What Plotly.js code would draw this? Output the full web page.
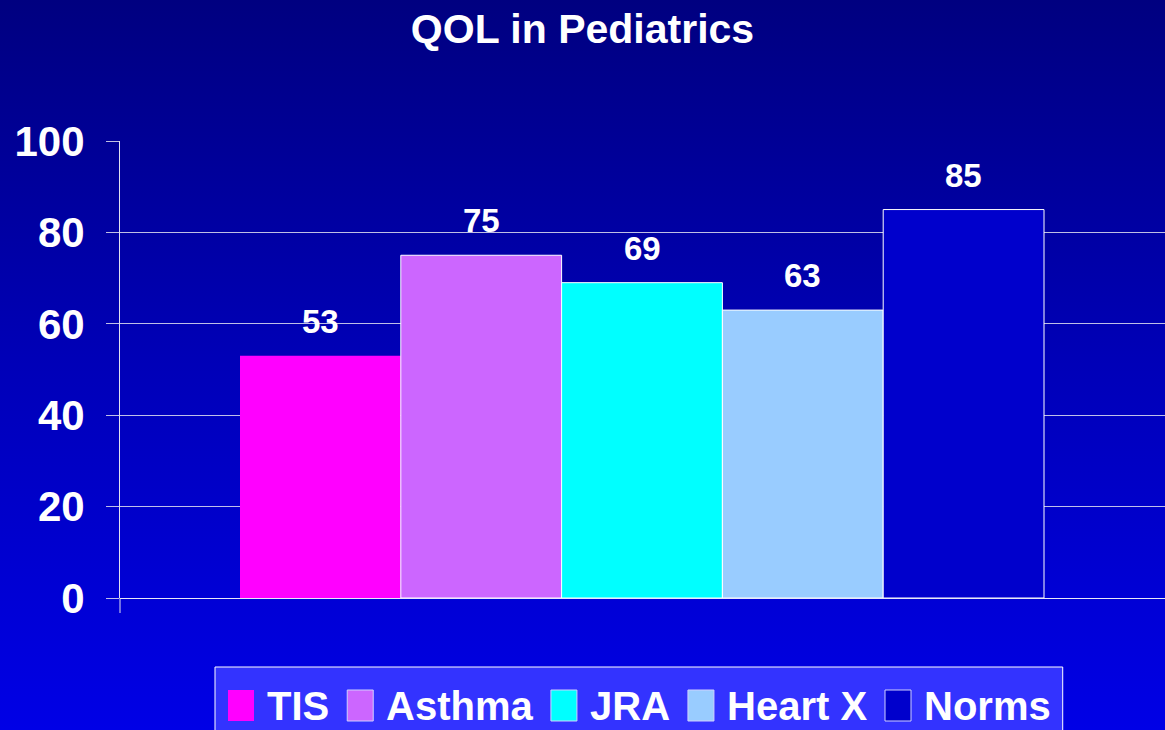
<!DOCTYPE html>
<html>
<head>
<meta charset="utf-8">
<script src="https://cdn.plot.ly/plotly-3.0.1.min.js"></script>
<style>
  html, body { margin: 0; padding: 0; width: 1165px; height: 730px; overflow: hidden; }
  body { background: linear-gradient(to bottom, #000080 0%, #0000B8 50%, #0000E6 100%); }
  #chart { width: 1165px; height: 730px; }
</style>
</head>
<body>
<div id="chart"></div>
<script>
// ---- data ----
const chartTitle = 'QOL in Pediatrics';
const categories = ['TIS', 'Asthma', 'JRA', 'Heart X', 'Norms'];
const values = [53, 75, 69, 63, 85];
const colors = ['#FF00FF', '#CC66FF', '#00FFFF', '#99CCFF', '#0000CC'];
const yTicks = [0, 20, 40, 60, 80, 100];

// ---- layout geometry (pixels) ----
const W = 1165, H = 730;
const M = { l: 120, r: 0, t: 141, b: 132 };
const plotW = W - M.l - M.r, plotH = H - M.t - M.b;
const px2x = p => (p - M.l) / plotW;
const py2y = p => (H - M.b - p) / plotH;
const FONT = 'Liberation Sans, Arial, sans-serif';
const outlineW = categories.map((c, i) => i === 0 ? 0 : 1);

const trace = {
  type: 'bar',
  x: categories,
  y: values,
  marker: { color: colors, line: { color: '#FFFFFF', width: outlineW } },
  showlegend: false,
  hoverinfo: 'x+y'
};

const annotations = categories.map((c, i) => ({
  x: c, y: values[i], xref: 'x', yref: 'y',
  text: String(values[i]), showarrow: false,
  xanchor: 'center', yanchor: 'bottom', yshift: 14,
  font: { family: FONT, size: 33, color: '#FFFFFF', weight: 700 }
}));

// custom legend (big swatches like the reference)
const ctx = document.createElement('canvas').getContext('2d');
ctx.font = 'bold 40px "Liberation Sans"';
const shapes = [];
const legendTop = 667, swTop = 690, swBot = 721;
let cx = 228;
const legendItems = [];
categories.forEach((c, i) => {
  const tw = ctx.measureText(c).width;
  legendItems.push({ c, i, sx: cx, tx: cx + 37 });
  cx = cx + 37 + tw + 20;
});
const legendRight = cx - 20 + 14;
shapes.push({
  type: 'rect', xref: 'paper', yref: 'paper',
  x0: px2x(215), x1: px2x(legendRight), y0: py2y(legendTop), y1: py2y(H + 20),
  fillcolor: '#3333FF', line: { color: '#FFFFFF', width: 1 }, layer: 'above'
});
legendItems.forEach(it => {
  shapes.push({
    type: 'rect', xref: 'paper', yref: 'paper',
    x0: px2x(it.sx), x1: px2x(it.sx + 26), y0: py2y(swBot), y1: py2y(swTop),
    fillcolor: colors[it.i],
    line: { color: '#D0D0FF', width: outlineW[it.i] }, layer: 'above'
  });
  annotations.push({
    x: px2x(it.tx), y: py2y((swTop + swBot) / 2), xref: 'paper', yref: 'paper',
    text: it.c, showarrow: false, xanchor: 'left', yanchor: 'middle',
    font: { family: FONT, size: 40, color: '#FFFFFF', weight: 700 }
  });
});
// small category-axis tick below the zero line at the left edge
shapes.push({
  type: 'line', xref: 'paper', yref: 'paper',
  x0: 0, x1: 0, y0: 0, y1: py2y(613),
  line: { color: '#E0E0F0', width: 1 }
});

// x range so bars span 240..1044 px
const unitPx = (1044 - 240) / categories.length;
const x0 = -0.5 - (240 - M.l) / unitPx;
const x1 = x0 + plotW / unitPx;

const layout = {
  width: W, height: H,
  margin: M,
  paper_bgcolor: 'rgba(0,0,0,0)',
  plot_bgcolor: 'rgba(0,0,0,0)',
  title: {
    text: chartTitle, x: 0.5, xanchor: 'center', xref: 'container',
    y: 1 - 29 / H, yanchor: 'middle', yref: 'container',
    font: { family: FONT, size: 41, color: '#FFFFFF', weight: 700 }
  },
  bargap: 0,
  xaxis: {
    type: 'category', range: [x0, x1],
    showticklabels: false, showgrid: false, zeroline: false, showline: false, ticks: ''
  },
  yaxis: {
    range: [0, 100], tickvals: yTicks, ticktext: yTicks.map(String),
    showgrid: true, gridcolor: 'rgba(225,225,240,0.85)', gridwidth: 1,
    zeroline: true, zerolinecolor: '#E8E8F8', zerolinewidth: 1,
    showline: true, linecolor: '#E0E0F0', linewidth: 1,
    ticks: 'outside', ticklen: 13, tickcolor: 'rgba(225,225,240,0.85)', tickwidth: 1,
    ticklabelstandoff: 13,
    tickfont: { family: FONT, size: 42, color: '#FFFFFF', weight: 700 }
  },
  showlegend: false,
  shapes: shapes,
  annotations: annotations
};

Plotly.newPlot('chart', [trace], layout, { displayModeBar: false, staticPlot: true });
</script>
</body>
</html>
